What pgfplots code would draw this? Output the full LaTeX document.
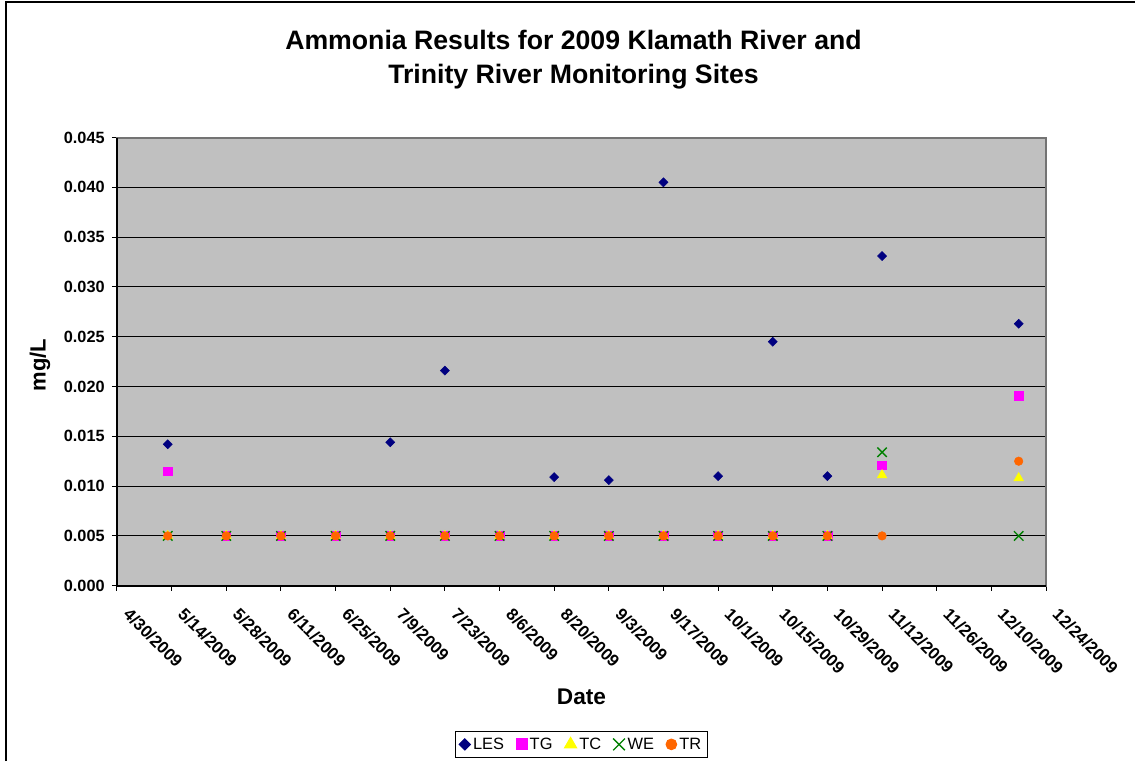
\documentclass[border=0pt]{standalone}
\usepackage{pgfplots}
\pgfplotsset{compat=1.18}
\usepackage{fontspec}
\setmainfont{Liberation Sans}
\definecolor{les}{HTML}{000080}
\definecolor{tg}{HTML}{FF00FF}
\definecolor{tc}{HTML}{FFFF00}
\definecolor{we}{HTML}{008000}
\definecolor{tr}{HTML}{FF6600}
\definecolor{plotbg}{HTML}{C0C0C0}
\begin{document}
\begin{tikzpicture}[x=0.75pt,y=0.75pt]
\useasboundingbox (0,0) rectangle (1135,-761);
\draw[black, line width=1.5] (6,-761) -- (6,-2) -- (1135,-2);
\coordinate (O) at (117,-585.7);
\begin{axis}[
  at={(O)}, anchor=south west,
  scale only axis, width=696.75pt, height=336.15pt,
  xmin=0, xmax=238, ymin=0, ymax=0.045,
  axis background/.style={fill=plotbg},
  axis line style={draw=gray!90!black, line width=1.5pt},
  xtick={0,14,...,238},
  xticklabels={4/30/2009,5/14/2009,5/28/2009,6/11/2009,6/25/2009,7/9/2009,7/23/2009,8/6/2009,8/20/2009,9/3/2009,9/17/2009,10/1/2009,10/15/2009,10/29/2009,11/12/2009,11/26/2009,12/10/2009,12/24/2009},
  ytick={0,0.005,...,0.045},
  scaled y ticks=false,
  /pgf/number format/fixed, /pgf/number format/fixed zerofill, /pgf/number format/precision=3, /pgf/number format/assume math mode=true,
  tick align=outside, xtick pos=bottom, ytick pos=left,
  major tick length=3.75pt,
  tick style={black, line width=0.75pt},
  ymajorgrids, grid style={black, line width=0.75pt},
  ticklabel style={font=\fontsize{12.2}{14}\selectfont\bfseries},
  xticklabel style={rotate=-45, anchor=north west, inner sep=0pt, xshift=16pt, yshift=-1pt, font=\fontsize{12.6}{14}\selectfont\bfseries},
  yticklabel style={xshift=-2pt},
  xlabel={Date}, ylabel={mg/L},
  xlabel style={at={(axis description cs:0.5,-0.248)}, anchor=center, font=\fontsize{17}{20}\selectfont\bfseries},
  ylabel style={at={(axis description cs:-0.0829,0.4924)}, anchor=center, font=\fontsize{16.5}{20}\selectfont\bfseries},
  title={Ammonia Results for 2009 Klamath River and\\Trinity River Monitoring Sites},
  title style={at={(axis description cs:0.4914,1.155)}, anchor=center, align=center, font=\fontsize{20}{25.5}\selectfont\bfseries},
  legend columns=5,
  legend style={at={(axis description cs:0.5,-0.354)}, anchor=center, draw=black, line width=0.75pt, font=\fontsize{12.3}{14}\selectfont, inner sep=2.5pt, /tikz/every even column/.append style={column sep=7pt}},
  legend image post style={scale=1.25},
  legend cell align=left,
  after end axis/.code={\draw[black, line width=1.5pt] (rel axis cs:0,1) -- (rel axis cs:0,0) -- (rel axis cs:1,0);},
  clip=false,
]
\addplot[only marks, mark=square*, mark size=2.4pt, mark options={rotate=45, fill=les, draw=les}] coordinates {
(13,0.0142) (28,0.005) (42,0.005) (56,0.005) (70,0.0144) (84,0.0216) (98,0.005) (112,0.0109) (126,0.0106) (140,0.0405) (154,0.0110) (168,0.0245) (182,0.0110) (196,0.0331) (231,0.0263)};
\addlegendentry{LES}
\addplot[only marks, mark=square*, mark size=3.3pt, mark options={fill=tg, draw=tg}] coordinates {
(13,0.0115) (28,0.005) (42,0.005) (56,0.005) (70,0.005) (84,0.005) (98,0.005) (112,0.005) (126,0.005) (140,0.005) (154,0.005) (168,0.005) (182,0.005) (196,0.0121) (231,0.0191)};
\addlegendentry{TG}
\addplot[only marks, mark=triangle*, mark size=4.2pt, mark options={fill=tc, draw=tc}] coordinates {
(13,0.005) (28,0.005) (42,0.005) (56,0.005) (70,0.005) (84,0.005) (98,0.005) (112,0.005) (126,0.005) (140,0.005) (154,0.005) (168,0.005) (182,0.005) (196,0.0111) (231,0.0108)};
\addlegendentry{TC}
\addplot[only marks, mark=x, mark size=5pt, mark options={draw=we, line width=1pt}] coordinates {
(13,0.005) (28,0.005) (42,0.005) (56,0.005) (70,0.005) (84,0.005) (98,0.005) (112,0.005) (126,0.005) (140,0.005) (154,0.005) (168,0.005) (182,0.005) (196,0.0134) (231,0.005)};
\addlegendentry{WE}
\addplot[only marks, mark=*, mark size=3.2pt, mark options={fill=tr, draw=tr}] coordinates {
(13,0.005) (28,0.005) (42,0.005) (56,0.005) (70,0.005) (84,0.005) (98,0.005) (112,0.005) (126,0.005) (140,0.005) (154,0.005) (168,0.005) (182,0.005) (196,0.005) (231,0.0125)};
\addlegendentry{TR}
\end{axis}
\end{tikzpicture}
\end{document}
